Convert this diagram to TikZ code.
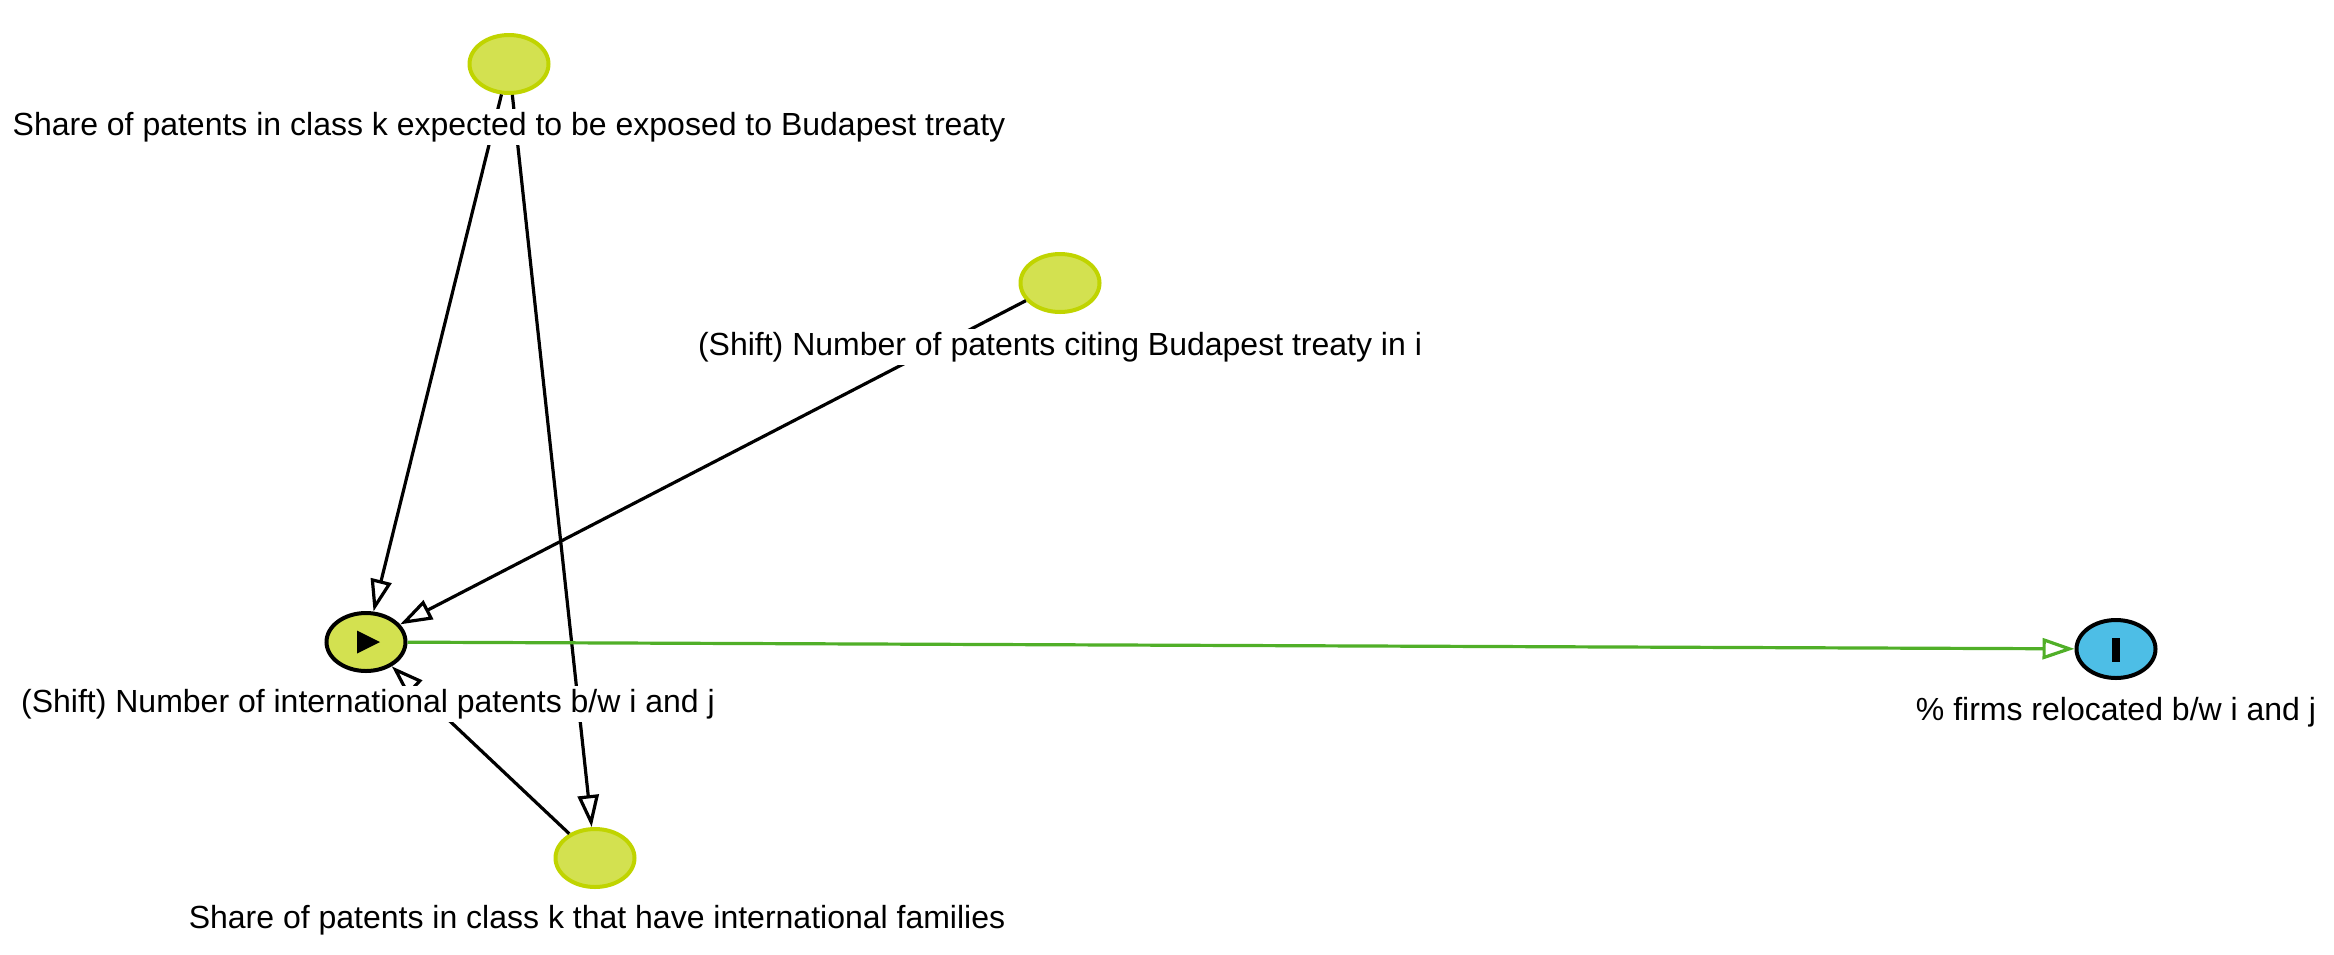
\documentclass[tikz,border=0pt]{standalone}
\usepackage{fontspec}
\setmainfont{Liberation Sans}
\usetikzlibrary{arrows.meta,shapes.geometric}
\definecolor{nodefill}{RGB}{211,225,80}
\definecolor{nodeline}{RGB}{192,212,0}
\definecolor{outfill}{RGB}{77,190,230}
\definecolor{edgegreen}{RGB}{80,175,40}
\begin{document}
\begin{tikzpicture}[x=0.5pt,y=-0.5pt,
  var/.style={ellipse, draw=nodeline, fill=nodefill, line width=2pt, minimum width=39.5pt, minimum height=29pt, inner sep=0pt},
  mainvar/.style={var, draw=black},
  outvar/.style={var, draw=black, fill=outfill},
  lbl/.style={fill=white, inner xsep=0pt, inner ysep=1.5pt, font=\fontsize{16}{19}\selectfont},
  edge/.style={line width=1.6pt, -{Triangle[open, length=16pt, width=10.5pt]}},
  gedge/.style={edge, draw=edgegreen}]
\useasboundingbox (0,0) rectangle (2334,954);
% variable nodes
\node[var] (A) at (509,64) {};
\node[var] (B) at (1060,283) {};
\node[mainvar] (C) at (366,642) {};
\node[var] (D) at (595,858) {};
\node[outvar] (E) at (2116,649) {};
% icons
\fill (357,630.5) -- (357,653.5) -- (380,642) -- cycle;
\fill (2112,638) rectangle (2120,662);
% edges
\draw[edge] (A) -- (C);
\draw[edge] (A) -- (D);
\draw[edge] (B) -- (C);
\draw[edge] (D) -- (C);
\draw[gedge] (C) -- (E);
% labels
\node[lbl] (lA) at (509,127) {Share of patents in class k expected to be exposed to Budapest treaty};
\node[lbl] (lB) at (1060,347) {(Shift) Number of patents citing Budapest treaty in i};
\node[lbl] (lC) at (368,704) {(Shift) Number of international patents b/w i and j};
\node[lbl] (lD) at (597,920) {Share of patents in class k that have international families};
\node[lbl] (lE) at (2116,712) {\% firms relocated b/w i and j};
\end{tikzpicture}
\end{document}
